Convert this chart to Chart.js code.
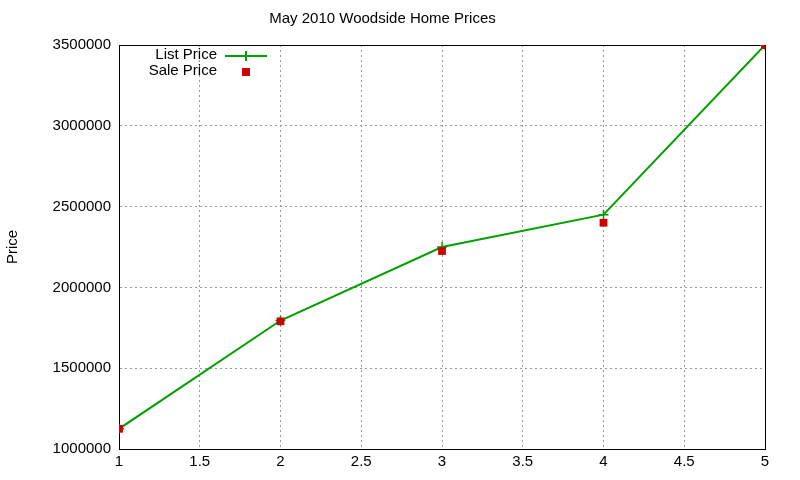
<!DOCTYPE html>
<html><head><meta charset="utf-8">
<script src="https://cdn.jsdelivr.net/npm/chart.js@4"></script>
<style>html,body{margin:0;padding:0;background:#fff}#w{width:800px;height:480px}</style>
</head><body><div id="w"><canvas id="c"></canvas></div>
<script>
const houses = [1, 2, 3, 4, 5];
const listPrice = [1125000, 1795000, 2250000, 2450000, 3500000];
const salePrice = [1125000, 1790000, 2225000, 2400000, 3500000];
const chartTitle = 'May 2010 Woodside Home Prices';
const yTitle = 'Price';
const FONT = '"Liberation Sans", Arial, sans-serif';

const legendPlugin = {
  id: 'gpLegend',
  afterDatasetsDraw(chart) {
    const ctx = chart.ctx;
    ctx.save();
    ctx.font = '15px ' + FONT;
    ctx.fillStyle = '#000';
    ctx.textAlign = 'right';
    ctx.textBaseline = 'middle';
    const ds = chart.data.datasets;
    ctx.fillText(ds[0].label, 217, 55);
    ctx.strokeStyle = ds[0].borderColor; ctx.lineWidth = 2;
    ctx.beginPath(); ctx.moveTo(225, 56); ctx.lineTo(267, 56);
    ctx.moveTo(246, 51); ctx.lineTo(246, 61); ctx.stroke();
    ctx.fillText(ds[1].label, 217, 71);
    ctx.fillStyle = ds[1].backgroundColor;
    ctx.fillRect(242, 68, 8, 8);
    ctx.restore();
  }
};

new Chart(document.getElementById('c'), {
  type: 'line',
  data: {
    datasets: [
      { label: 'List Price', order: 1, data: houses.map((x, i) => ({x, y: listPrice[i]})),
        borderColor: '#00a000', backgroundColor: '#00a000', borderWidth: 2,
        pointStyle: 'cross', pointRadius: 5, pointBorderWidth: 1.5, tension: 0 },
      { label: 'Sale Price', order: 0, data: houses.map((x, i) => ({x, y: salePrice[i]})),
        showLine: false, borderColor: '#d00000', backgroundColor: '#d00000',
        pointStyle: 'rect', pointRadius: 5.5, pointBorderWidth: 0 }
    ]
  },
  options: {
    responsive: true, maintainAspectRatio: false, animation: false,
    layout: { padding: { left: 0, right: 35, top: 0, bottom: 0 } },
    plugins: {
      legend: { display: false },
      tooltip: { enabled: false },
      title: { display: true, text: chartTitle, color: '#000',
        font: { family: FONT, size: 15, weight: 'normal' }, padding: { top: 10, bottom: 17 } }
    },
    scales: {
      x: { type: 'linear', min: 1, max: 5,
        ticks: { stepSize: 0.5, color: '#000', font: { family: FONT, size: 15 }, padding: 4,
          callback: v => String(v) },
        grid: { color: '#999', lineWidth: 1, drawTicks: false },
        border: { color: '#000', width: 1, dash: [2, 3] },
        afterFit(s) { s.height = 31; } },
      y: { min: 1000000, max: 3500000,
        ticks: { stepSize: 500000, color: '#000', font: { family: FONT, size: 15 }, padding: 8,
          callback: v => String(v) },
        grid: { color: '#999', lineWidth: 1, drawTicks: false },
        border: { color: '#000', width: 1, dash: [2, 3] },
        title: { display: true, text: yTitle, color: '#000', font: { family: FONT, size: 15 }, padding: { top: 4, bottom: 0 } },
        afterFit(s) { s.width = 119; } }
    }
  },
  plugins: [legendPlugin, {
    id: 'frame',
    beforeDatasetsDraw(chart) {
      const a = chart.chartArea, ctx = chart.ctx;
      ctx.save();
      ctx.strokeStyle = '#000'; ctx.lineWidth = 1; ctx.setLineDash([]);
      ctx.strokeRect(a.left + 0.5, a.top + 0.5, a.right - a.left, a.bottom - a.top);
      ctx.restore();
    }
  }]
});
</script>
</body></html>
